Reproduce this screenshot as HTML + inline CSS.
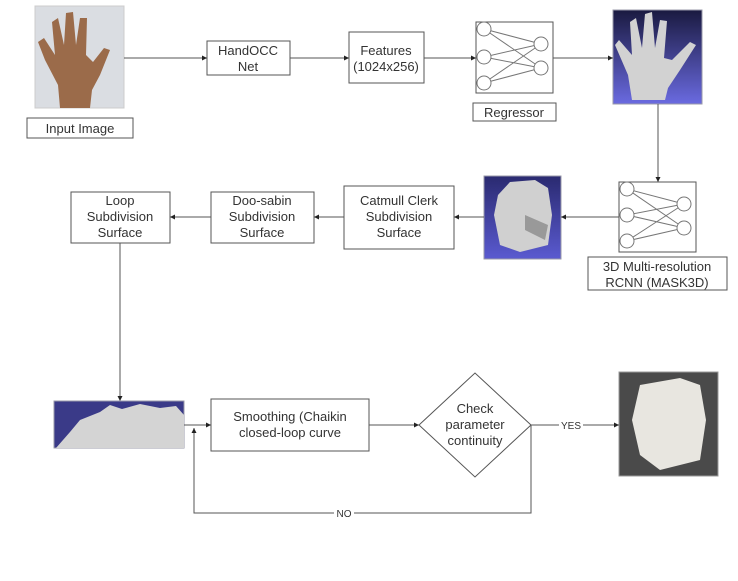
<!DOCTYPE html>
<html><head><meta charset="utf-8"><style>
html,body{margin:0;padding:0;background:#fff;}
svg{display:block;}
text{font-family:"Liberation Sans",sans-serif;font-size:13px;fill:#333;text-anchor:middle;}
</style></head><body>
<svg width="738" height="581" viewBox="0 0 738 581" xmlns="http://www.w3.org/2000/svg">
<defs>
<marker id="a" markerWidth="6" markerHeight="6" refX="5" refY="3" orient="auto"><path d="M0,0.5 L5,3 L0,5.5z" fill="#222"/></marker>
<linearGradient id="bl" x1="0" y1="0" x2="0" y2="1"><stop offset="0" stop-color="#1a1a40"/><stop offset="1" stop-color="#6a6ae0"/></linearGradient>
<linearGradient id="bl2" x1="0" y1="0" x2="0" y2="1"><stop offset="0" stop-color="#2a2a70"/><stop offset="1" stop-color="#5a5ad0"/></linearGradient>
</defs>
<g stroke="#555" stroke-width="1" fill="none">
<!-- input photo -->
<rect x="35" y="6" width="89" height="102" fill="#dadde2" stroke="#ccc"/>
<path d="M60,108 L58,85 L45,60 L38,42 L44,38 L55,55 L52,22 L58,18 L64,45 L66,13 L73,12 L76,45 L80,18 L87,18 L86,55 L93,62 L104,48 L110,50 L100,75 L92,90 L90,108Z" fill="#9b6b4a" stroke="none"/>
<rect x="27" y="118" width="106" height="20" fill="#fff"/>
<!-- boxes -->
<rect x="207" y="41" width="83" height="34" fill="#fff"/>
<rect x="349" y="32" width="75" height="51" fill="#fff"/>
<rect x="476" y="22" width="77" height="71" fill="#fff"/>
<rect x="473" y="103" width="83" height="18" fill="#fff"/>
<!-- NN1 -->
<g stroke="#777">
<path d="M484,29 L541,44 M484,29 L541,68 M484,57 L541,44 M484,57 L541,68 M484,83 L541,44 M484,83 L541,68"/>
<circle cx="484" cy="29" r="7" fill="#fff"/><circle cx="484" cy="57" r="7" fill="#fff"/><circle cx="484" cy="83" r="7" fill="#fff"/>
<circle cx="541" cy="44" r="7" fill="#fff"/><circle cx="541" cy="68" r="7" fill="#fff"/>
</g>
<!-- hand 3D -->
<rect x="613" y="10" width="89" height="94" fill="url(#bl)" stroke="#99a"/>
<path d="M632,100 L628,75 L615,45 L619,40 L632,55 L630,22 L636,18 L642,48 L645,14 L652,12 L655,48 L660,20 L667,21 L664,58 L672,60 L690,42 L696,45 L680,70 L668,88 L665,100Z" fill="#d2d2d2" stroke="none"/>
<!-- arrows row1 -->
<path d="M124,58 H207" marker-end="url(#a)"/>
<path d="M290,58 H349" marker-end="url(#a)"/>
<path d="M424,58 H476" marker-end="url(#a)"/>
<path d="M553,58 H613" marker-end="url(#a)"/>
<path d="M658,104 V182" marker-end="url(#a)"/>
<!-- NN2 -->
<rect x="619" y="182" width="77" height="70" fill="#fff"/>
<g stroke="#777">
<path d="M627,189 L684,204 M627,189 L684,228 M627,215 L684,204 M627,215 L684,228 M627,241 L684,204 M627,241 L684,228"/>
<circle cx="627" cy="189" r="7" fill="#fff"/><circle cx="627" cy="215" r="7" fill="#fff"/><circle cx="627" cy="241" r="7" fill="#fff"/>
<circle cx="684" cy="204" r="7" fill="#fff"/><circle cx="684" cy="228" r="7" fill="#fff"/>
</g>
<rect x="588" y="257" width="139" height="33" fill="#fff"/>
<!-- mesh -->
<rect x="484" y="176" width="77" height="83" fill="url(#bl2)" stroke="#99a"/>
<path d="M498,195 L510,182 L535,180 L548,188 L552,215 L548,245 L520,252 L500,245 L494,215Z" fill="#d0d0d0" stroke="none"/>
<path d="M525,215 L548,225 L545,240 L525,230Z" fill="#999" stroke="none"/>
<!-- row2 boxes -->
<rect x="344" y="186" width="110" height="63" fill="#fff"/>
<rect x="211" y="192" width="103" height="51" fill="#fff"/>
<rect x="71" y="192" width="99" height="51" fill="#fff"/>
<path d="M619,217 H561" marker-end="url(#a)"/>
<path d="M484,217 H454" marker-end="url(#a)"/>
<path d="M344,217 H314" marker-end="url(#a)"/>
<path d="M211,217 H170" marker-end="url(#a)"/>
<path d="M120,243 V401" marker-end="url(#a)"/>
<!-- bottom -->
<rect x="54" y="401" width="130" height="47" fill="#3a3a88" stroke="#99a"/>
<path d="M56,448 L70,432 L80,420 L100,412 L110,405 L122,409 L140,404 L160,408 L176,406 L184,415 L184,448Z" fill="#d4d4d4" stroke="none"/>
<rect x="211" y="399" width="158" height="52" fill="#fff"/>
<path d="M419,425 L475,373 L531,425 L475,477Z" fill="#fff"/>
<rect x="619" y="372" width="99" height="104" fill="#4a4a4a" stroke="#999"/>
<path d="M640,385 L680,378 L700,385 L706,420 L700,460 L660,470 L640,455 L632,420Z" fill="#e8e6e0" stroke="none"/>
<path d="M184,425 H211" marker-end="url(#a)"/>
<path d="M369,425 H419" marker-end="url(#a)"/>
<path d="M531,425 H619" marker-end="url(#a)"/>
<path d="M531,425 V513 H194 V428" marker-end="url(#a)"/>
</g>
<rect x="559" y="418" width="24" height="14" fill="#fff"/>
<text x="571" y="429" style="font-size:10px">YES</text>
<rect x="334" y="507" width="20" height="12" fill="#fff"/>
<text x="344" y="517" style="font-size:10px">NO</text>
<text x="80" y="133">Input Image</text>
<text x="248" y="55">HandOCC</text><text x="248" y="71">Net</text>
<text x="386" y="55">Features</text><text x="386" y="71">(1024x256)</text>
<text x="514" y="117">Regressor</text>
<text x="657" y="271">3D Multi-resolution</text><text x="657" y="287">RCNN (MASK3D)</text>
<text x="399" y="205">Catmull Clerk</text><text x="399" y="221">Subdivision</text><text x="399" y="237">Surface</text>
<text x="262" y="205">Doo-sabin</text><text x="262" y="221">Subdivision</text><text x="262" y="237">Surface</text>
<text x="120" y="205">Loop</text><text x="120" y="221">Subdivision</text><text x="120" y="237">Surface</text>
<text x="290" y="421">Smoothing (Chaikin</text><text x="290" y="437">closed-loop curve</text>
<text x="475" y="413">Check</text><text x="475" y="429">parameter</text><text x="475" y="445">continuity</text>
</svg>
</body></html>
